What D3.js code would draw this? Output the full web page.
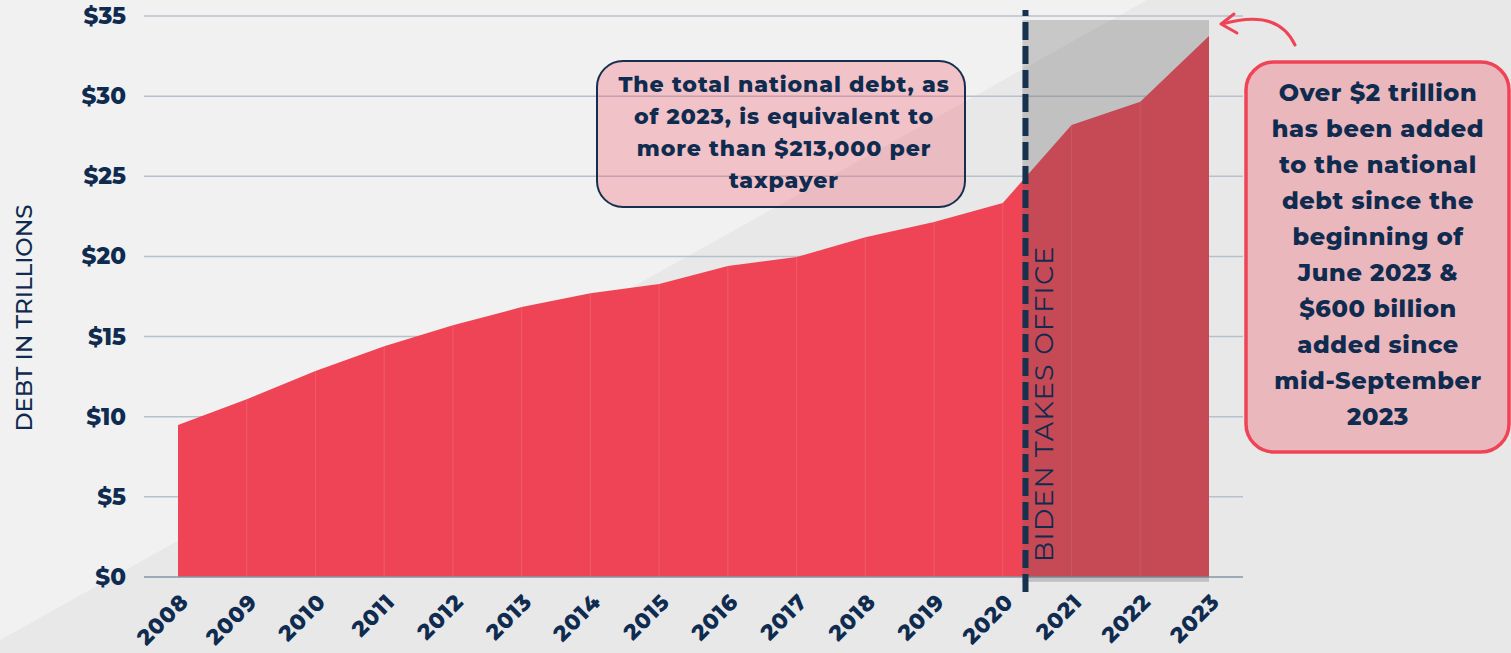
<!DOCTYPE html>
<html>
<head>
<meta charset="utf-8">
<script src="https://cdn.jsdelivr.net/npm/d3@7"></script>
<style>
  html, body { margin: 0; padding: 0; background: #e8e8e8; }
  svg { display: block; }
  text { font-family: Montserrat, Inter, "Open Sans", sans-serif; }
</style>
</head>
<body>
<svg id="chart" width="1511" height="653"></svg>
<script>
// National debt, trillions of dollars, by year
const years = [2008, 2009, 2010, 2011, 2012, 2013, 2014, 2015, 2016, 2017, 2018, 2019, 2020, 2021, 2022, 2023];
const debt = [9.48, 11.09, 12.85, 14.4, 15.7, 16.84, 17.7, 18.28, 19.4, 19.96, 21.2, 22.15, 23.33, 28.2, 29.65, 33.75];
const yTicks = [0, 5, 10, 15, 20, 25, 30, 35];
const inaugurationYear = 2020.33;

const leftNote = ["The total national debt, as", "of 2023, is equivalent to", "more than $213,000 per", "taxpayer"];
const rightNote = ["Over $2 trillion", "has been added", "to the national", "debt since the", "beginning of", "June 2023 &", "$600 billion", "added since", "mid-September", "2023"];

const navy = "#0f2b4f";
const red = "#ef4455";

const svg = d3.select("#chart");
const W = 1511, H = 653;

// backdrop: two-tone diagonal split
svg.append("rect").attr("width", W).attr("height", H).attr("fill", "#e8e8e8");
svg.append("path").attr("d", "M0,0 L1147,0 L0,640 Z").attr("fill", "#f1f1f1");

const x = d3.scaleLinear().domain([2008, 2023]).range([178, 1209]);
const y = d3.scaleLinear().domain([0, 35]).range([577, 16]);
const gridX0 = 144, gridX1 = 1243;

// horizontal grid
svg.append("g").selectAll("line").data(yTicks.filter(d => d > 0)).join("line")
  .attr("x1", gridX0).attr("x2", gridX1)
  .attr("y1", d => y(d)).attr("y2", d => y(d))
  .attr("stroke", "#b7c1cd").attr("stroke-width", 1.5);

// y tick labels
svg.append("g").selectAll("text").data(yTicks).join("text")
  .attr("x", 126).attr("y", d => y(d) + 8)
  .attr("text-anchor", "end")
  .attr("font-size", 23).attr("font-weight", 800)
  .attr("fill", navy)
  .text(d => "$" + d);

// y title
svg.append("text")
  .attr("transform", "translate(32,318) rotate(-90)")
  .attr("text-anchor", "middle")
  .attr("font-size", 23).attr("font-weight", 500)
  .attr("fill", navy)
  .text("DEBT IN TRILLIONS");

const pts = years.map((yr, i) => ({ yr, v: debt[i] }));

// debt area
const area = d3.area().x(d => x(d.yr)).y0(y(0)).y1(d => y(d.v));
svg.append("path").datum(pts).attr("d", area).attr("fill", red);

// faint year dividers inside the area
svg.append("g").selectAll("line").data(pts.slice(1, -1)).join("line")
  .attr("x1", d => x(d.yr)).attr("x2", d => x(d.yr))
  .attr("y1", d => y(d.v)).attr("y2", y(0))
  .attr("stroke", "rgba(255,255,255,0.13)").attr("stroke-width", 1);

// baseline
svg.append("line")
  .attr("x1", gridX0).attr("x2", gridX1).attr("y1", y(0)).attr("y2", y(0))
  .attr("stroke", "#8596aa").attr("stroke-width", 1.5);

// shaded term since inauguration
svg.append("rect")
  .attr("x", x(inaugurationYear) - 3).attr("y", y(34.75))
  .attr("width", x(2023) - x(inaugurationYear) + 3)
  .attr("height", y(-0.3) - y(34.75))
  .attr("fill", "#5a5a5a").attr("fill-opacity", 0.27);

// inauguration marker
svg.append("line")
  .attr("x1", x(inaugurationYear)).attr("x2", x(inaugurationYear))
  .attr("y1", 10).attr("y2", 592)
  .attr("stroke", "#17324f").attr("stroke-width", 6)
  .attr("stroke-dasharray", "18 6").attr("stroke-dashoffset", 12);

svg.append("text")
  .attr("transform", `translate(${x(inaugurationYear) + 28},562) rotate(-90)`)
  .attr("text-anchor", "start")
  .attr("font-size", 27).attr("font-weight", 400)
  .attr("letter-spacing", 1.2)
  .attr("fill", navy)
  .text("BIDEN TAKES OFFICE");

// x tick labels
svg.append("g").selectAll("text").data(years).join("text")
  .attr("transform", d => `translate(${x(d) + 12},603) rotate(-45)`)
  .attr("text-anchor", "end")
  .attr("font-size", 22).attr("font-weight", 800)
  .attr("letter-spacing", 1)
  .attr("fill", navy)
  .text(d => d);

// left note box
svg.append("rect")
  .attr("x", 597).attr("y", 61).attr("width", 368).attr("height", 146).attr("rx", 26)
  .attr("fill", red).attr("fill-opacity", 0.27)
  .attr("stroke", "#15304f").attr("stroke-width", 2);
svg.append("g").selectAll("text").data(leftNote).join("text")
  .attr("x", 784).attr("y", (d, i) => 92 + i * 32)
  .attr("text-anchor", "middle")
  .attr("font-size", 22).attr("font-weight", 800)
  .attr("letter-spacing", 0.9)
  .attr("fill", navy)
  .text(d => d);

// right note box
svg.append("rect")
  .attr("x", 1246).attr("y", 62).attr("width", 263).attr("height", 390).attr("rx", 28)
  .attr("fill", red).attr("fill-opacity", 0.3)
  .attr("stroke", red).attr("stroke-width", 3.5);
svg.append("g").selectAll("text").data(rightNote).join("text")
  .attr("x", 1378).attr("y", (d, i) => 101 + i * 36)
  .attr("text-anchor", "middle")
  .attr("font-size", 24).attr("font-weight", 800)
  .attr("letter-spacing", 0.6)
  .attr("fill", navy)
  .text(d => d);

// curved pointer to the 2023 value
svg.append("path")
  .attr("d", "M1295,45 Q1278,8 1222,24")
  .attr("fill", "none").attr("stroke", red).attr("stroke-width", 3).attr("stroke-linecap", "round");
svg.append("path")
  .attr("d", "M1234,14 L1221,24 L1237,33")
  .attr("fill", "none").attr("stroke", red).attr("stroke-width", 3)
  .attr("stroke-linecap", "round").attr("stroke-linejoin", "round");
</script>
</body>
</html>
